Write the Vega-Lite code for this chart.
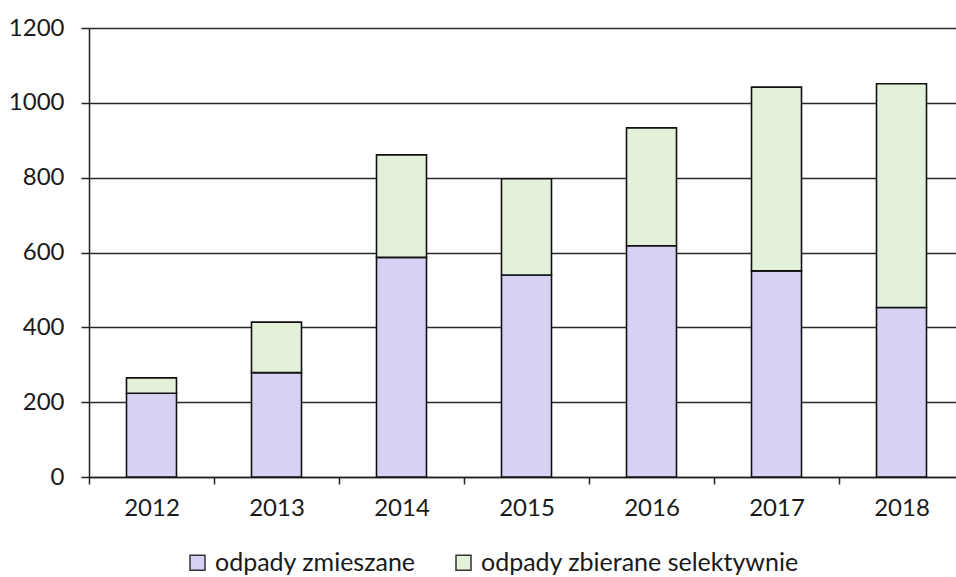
{
  "$schema": "https://vega.github.io/schema/vega-lite/v6.json",
  "autosize": {"type": "none"},
  "padding": {"left": 89, "top": 28, "right": 0, "bottom": 100},
  "width": 867,
  "height": 449,
  "background": "white",
  "config": {
    "font": "Lato",
    "view": {"stroke": null}
  },
  "data": {
    "values": [
      {"rok": "2012", "rodzaj": "odpady zmieszane", "wartosc": 224},
      {"rok": "2012", "rodzaj": "odpady zbierane selektywnie", "wartosc": 41},
      {"rok": "2013", "rodzaj": "odpady zmieszane", "wartosc": 279},
      {"rok": "2013", "rodzaj": "odpady zbierane selektywnie", "wartosc": 135},
      {"rok": "2014", "rodzaj": "odpady zmieszane", "wartosc": 587},
      {"rok": "2014", "rodzaj": "odpady zbierane selektywnie", "wartosc": 274},
      {"rok": "2015", "rodzaj": "odpady zmieszane", "wartosc": 540},
      {"rok": "2015", "rodzaj": "odpady zbierane selektywnie", "wartosc": 257},
      {"rok": "2016", "rodzaj": "odpady zmieszane", "wartosc": 618},
      {"rok": "2016", "rodzaj": "odpady zbierane selektywnie", "wartosc": 315},
      {"rok": "2017", "rodzaj": "odpady zmieszane", "wartosc": 551},
      {"rok": "2017", "rodzaj": "odpady zbierane selektywnie", "wartosc": 491},
      {"rok": "2018", "rodzaj": "odpady zmieszane", "wartosc": 453},
      {"rok": "2018", "rodzaj": "odpady zbierane selektywnie", "wartosc": 598}
    ]
  },
  "mark": {"type": "bar", "stroke": "#111", "strokeWidth": 1.6},
  "encoding": {
    "x": {
      "field": "rok",
      "type": "ordinal",
      "scale": {"range": [0, 875], "paddingInner": 0.6, "paddingOuter": 0.3},
      "axis": {
        "title": null,
        "labelAngle": 0,
        "labelFont": "Lato",
        "labelFontSize": 24,
        "labelColor": "#1a1a1a",
        "labelPadding": 12,
        "bandPosition": 0,
        "tickOffset": -37.5,
        "labelOffset": 37.5,
        "tickSize": 7,
        "tickColor": "#222",
        "tickWidth": 1.5,
        "domainColor": "#222",
        "domainWidth": 1.5,
        "grid": false
      }
    },
    "y": {
      "field": "wartosc",
      "type": "quantitative",
      "aggregate": "sum",
      "stack": "zero",
      "scale": {"domain": [0, 1200], "nice": false},
      "axis": {
        "title": null,
        "format": "d",
        "values": [0, 200, 400, 600, 800, 1000, 1200],
        "labelFont": "Lato",
        "labelFontSize": 24,
        "labelColor": "#1a1a1a",
        "labelPadding": 17,
        "tickSize": 8,
        "tickColor": "#222",
        "tickWidth": 1.5,
        "domainColor": "#222",
        "domainWidth": 1.5,
        "grid": true,
        "gridColor": "#2a2a2a",
        "gridWidth": 1.5
      }
    },
    "color": {
      "field": "rodzaj",
      "type": "nominal",
      "sort": ["odpady zmieszane", "odpady zbierane selektywnie"],
      "scale": {
        "domain": ["odpady zmieszane", "odpady zbierane selektywnie"],
        "range": ["#D7D2F3", "#E4F1DA"]
      },
      "legend": {
        "title": null,
        "orient": "none",
        "legendX": 96,
        "legendY": 522,
        "direction": "horizontal",
        "symbolType": "square",
        "symbolSize": 225,
        "symbolStrokeColor": "#333",
        "symbolStrokeWidth": 1.5,
        "labelFont": "Lato",
        "labelFontSize": 25,
        "labelLimit": 0,
        "labelColor": "#1a1a1a",
        "labelOffset": 5,
        "columnPadding": 35
      }
    },
    "order": {"field": "rodzaj", "sort": "descending"}
  }
}
